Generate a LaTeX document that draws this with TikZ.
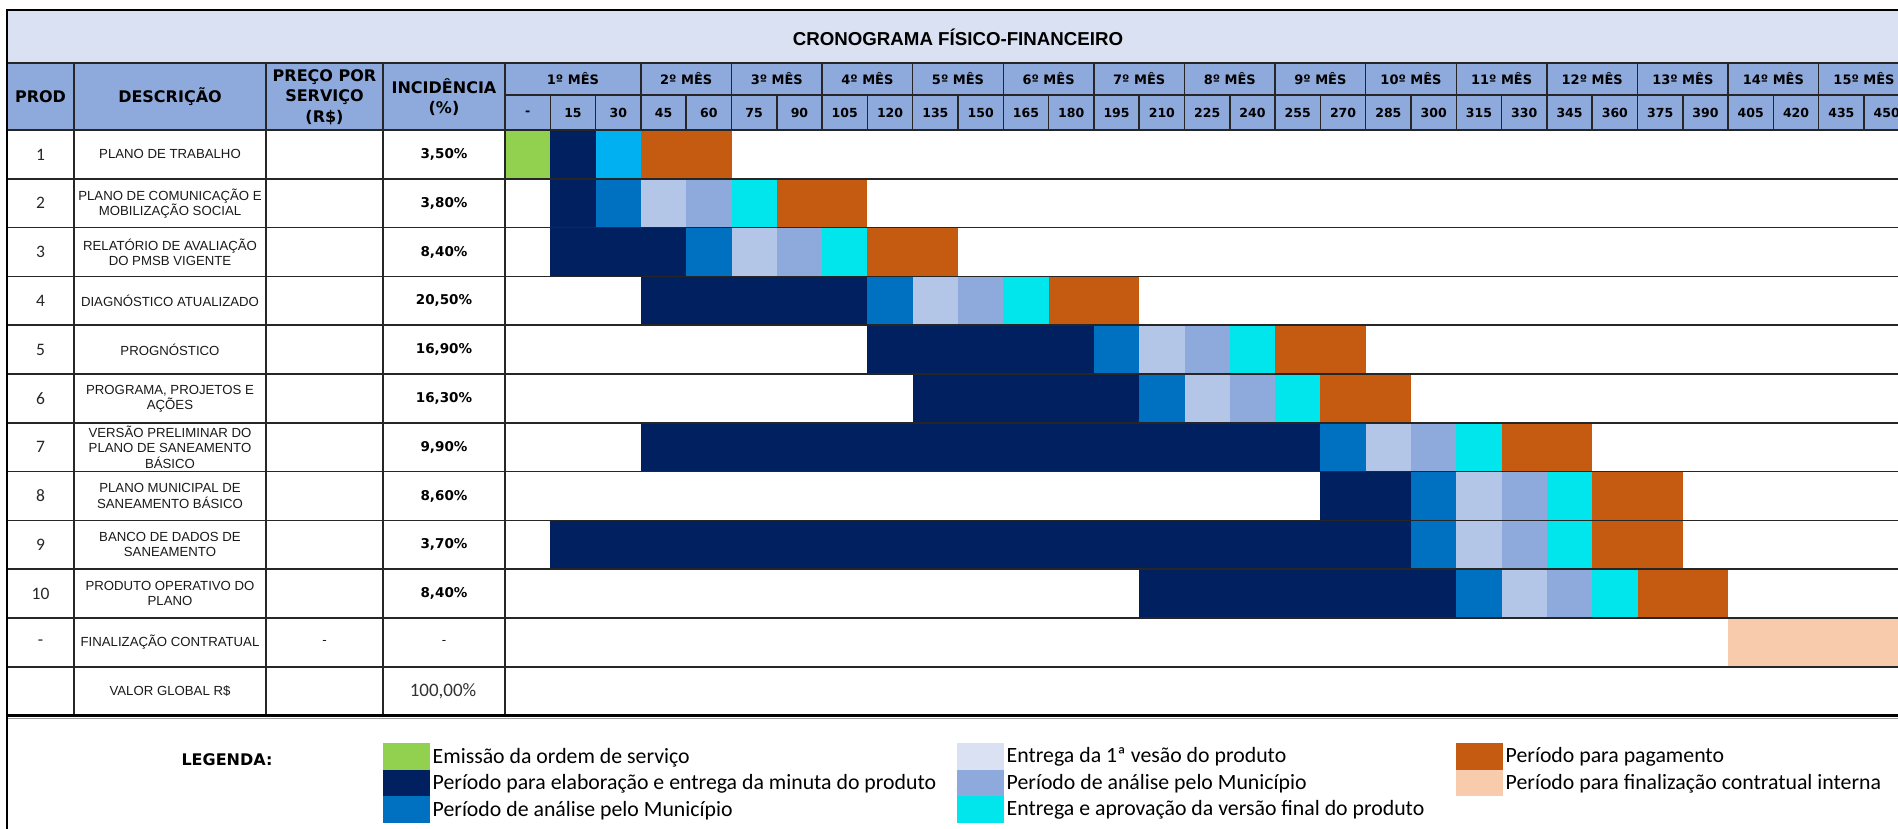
\documentclass[tikz,border=0pt]{standalone}
\usepackage{fontspec}
\setmainfont{Liberation Sans}
\newfontfamily\hdrfont{DejaVu Sans}
\newfontfamily\calfont{Carlito}
\definecolor{ctitle}{HTML}{D9E1F2}
\definecolor{chead}{HTML}{8EA9DB}
\definecolor{cgreen}{HTML}{92D050}
\definecolor{cnavy}{HTML}{002060}
\definecolor{csky}{HTML}{00B0F0}
\definecolor{cblue}{HTML}{0070C0}
\definecolor{clight}{HTML}{B4C6E7}
\definecolor{cmed}{HTML}{8EA9DB}
\definecolor{ccyan}{HTML}{00E6EC}
\definecolor{corange}{HTML}{C55A11}
\definecolor{cpeach}{HTML}{F8CBAD}
\begin{document}
\begin{tikzpicture}[x=1pt,y=-1pt,
  desc/.style={align=center,font=\fontsize{13.2}{15.2}\selectfont,text=black!90,inner sep=0},
  pct/.style={font=\hdrfont\bfseries\fontsize{13.5}{16}\selectfont,inner sep=0},
  num/.style={font=\calfont\fontsize{17.5}{20}\selectfont,text=black!85,inner sep=0},
  hdr/.style={font=\hdrfont\bfseries\fontsize{16}{20.5}\selectfont,align=center,inner sep=0},
  mon/.style={font=\hdrfont\bfseries\fontsize{13}{15}\selectfont,inner sep=0},
  day/.style={font=\hdrfont\bfseries\fontsize{12.5}{15}\selectfont,inner sep=0},
  leg/.style={font=\calfont\fontsize{21.8}{24}\selectfont,anchor=west,inner sep=0},
  gridline/.style={line width=1.5pt,draw=black!85}]
\useasboundingbox (0,0) rectangle (1898,828);
\begin{scope}
\clip (0,0) rectangle (1898,828);
% backgrounds
\fill[ctitle] (7,10) rectangle (1909,63);
\fill[chead] (7,63) rectangle (1909,130);
% bars
\newcommand{\gbar}[4]{\fill[#4] ({505+45.3*(#2)},{130+48.8*(#1-1)}) rectangle ({505+45.3*(#3+1)},{130+48.8*(#1)});}
\gbar{1}{0}{0}{cgreen}
\gbar{1}{1}{1}{cnavy}
\gbar{1}{2}{2}{csky}
\gbar{1}{3}{4}{corange}
\foreach \r/\s/\e in {2/1/1,3/1/3,4/3/7,5/8/12,6/9/13,7/3/17,8/18/19,9/1/19,10/14/20}{
  \gbar{\r}{\s}{\e}{cnavy}
  \gbar{\r}{\e+1}{\e+1}{cblue}
  \gbar{\r}{\e+2}{\e+2}{clight}
  \gbar{\r}{\e+3}{\e+3}{cmed}
  \gbar{\r}{\e+4}{\e+4}{ccyan}
  \gbar{\r}{\e+5}{\e+6}{corange}
}
\gbar{11}{27}{30}{cpeach}
% grid
\draw[gridline] (7,63) -- (1909,63);
\foreach \k in {0,...,11} \draw[gridline] (7,{130+48.8*\k}) -- (1909,{130+48.8*\k});
\foreach \x in {74,266,383,505} \draw[gridline] (\x,63) -- (\x,715);
\draw[gridline] (505,95) -- (1909,95);
\foreach \c in {1,...,30} \draw[gridline] ({505+45.3*\c},95) -- ({505+45.3*\c},130);
\foreach \c in {3,5,...,29} \draw[gridline] ({505+45.3*\c},63) -- ({505+45.3*\c},95);
\draw[line width=3pt] (7,715) -- (1909,715);
\draw[line width=1.2pt,black!40] (7,718.5) -- (1909,718.5);
\draw[line width=2pt] (7,10) rectangle (1909,850);
% title and headers
\node[font=\bfseries\fontsize{18.7}{20}\selectfont,inner sep=0] (title) at (958,37) {CRONOGRAMA FÍSICO-FINANCEIRO};
\node[hdr] (hprod) at (40.5,97) {PROD};
\node[hdr] (hdesc) at (170,97) {DESCRIÇÃO};
\node[hdr] (hpreco) at (324.5,97) {PREÇO POR\\SERVIÇO\\(R\$)};
\node[hdr] (hinc) at (444,97) {INCIDÊNCIA\\(\%)};
\node[mon] (m1) at ({505+45.3*1.5},79) {1º MÊS};
\foreach \m in {2,...,15} \node[mon] (m\m) at ({505+45.3*2*\m},79) {\m º MÊS};
\node[day] (d0) at ({505+45.3*0.5},113) {-};
\foreach \c in {1,...,30}{
  \pgfmathtruncatemacro\dd{15*\c}
  \node[day] (d\c) at ({505+45.3*(\c+0.5)},113) {\dd};
}
% rows
\foreach \k/\n/\t/\p in {1/1/{PLANO DE TRABALHO}/{3,50\%},
  2/2/{PLANO DE COMUNICAÇÃO E\\MOBILIZAÇÃO SOCIAL}/{3,80\%},
  3/3/{RELATÓRIO DE AVALIAÇÃO\\DO PMSB VIGENTE}/{8,40\%},
  4/4/{DIAGNÓSTICO ATUALIZADO}/{20,50\%},
  5/5/{PROGNÓSTICO}/{16,90\%},
  6/6/{PROGRAMA, PROJETOS E\\AÇÕES}/{16,30\%},
  7/7/{VERSÃO PRELIMINAR DO\\PLANO DE SANEAMENTO\\BÁSICO}/{9,90\%},
  8/8/{PLANO MUNICIPAL DE\\SANEAMENTO BÁSICO}/{8,60\%},
  9/9/{BANCO DE DADOS DE\\SANEAMENTO}/{3,70\%},
  10/10/{PRODUTO OPERATIVO DO\\PLANO}/{8,40\%}}{
  \node[num] (n\k) at (40.5,{130+48.8*(\k-0.5)}) {\n};
  \node[desc] (t\k) at (170,{130+48.8*(\k-0.5)}) {\t};
  \node[pct] (p\k) at (444,{130+48.8*(\k-0.5)}) {\p};
}
\node[num] (n11) at (40.5,{130+48.8*10.5}) {-};
\node[desc] (t11) at (170,{130+48.8*10.5}) {FINALIZAÇÃO CONTRATUAL};
\node[desc] (c11) at (324.5,{130+48.8*10.5}) {-};
\node[desc] (p11) at (444,{130+48.8*10.5}) {-};
\node[desc] (t12) at (170,{130+48.8*11.5}) {VALOR GLOBAL R\$};
\node[font=\calfont\fontsize{19}{21}\selectfont,text=black!80,inner sep=0] (p12) at (443,{130+48.8*11.5}) {100,00\%};
% legend
\node[font=\hdrfont\bfseries\fontsize{16}{18}\selectfont,inner sep=0] (legtitle) at (227,760) {LEGENDA:};
\foreach \xs/\r/\col/\txt/\nm in {383/0/cgreen/{Emissão da ordem de serviço}/a1,
  383/1/cnavy/{Período para elaboração e entrega da minuta do produto}/a2,
  383/2/cblue/{Período de análise pelo Município}/a3,
  957/0/ctitle/{Entrega da 1ª vesão do produto}/b1,
  957/1/cmed/{Período de análise pelo Município}/b2,
  957/2/ccyan/{Entrega e aprovação da versão final do produto}/b3,
  1456/0/corange/{Período para pagamento}/c1,
  1456/1/cpeach/{Período para finalização contratual interna}/c2}{
  \fill[\col] (\xs,{743+26.5*\r}) rectangle ({\xs+46.5},{743+26.5*(\r+1)});
  \node[leg] (\nm) at ({\xs+49.5},{743+26.5*(\r+0.5)+1}) {\txt};
}
\end{scope}
\end{tikzpicture}
\end{document}
